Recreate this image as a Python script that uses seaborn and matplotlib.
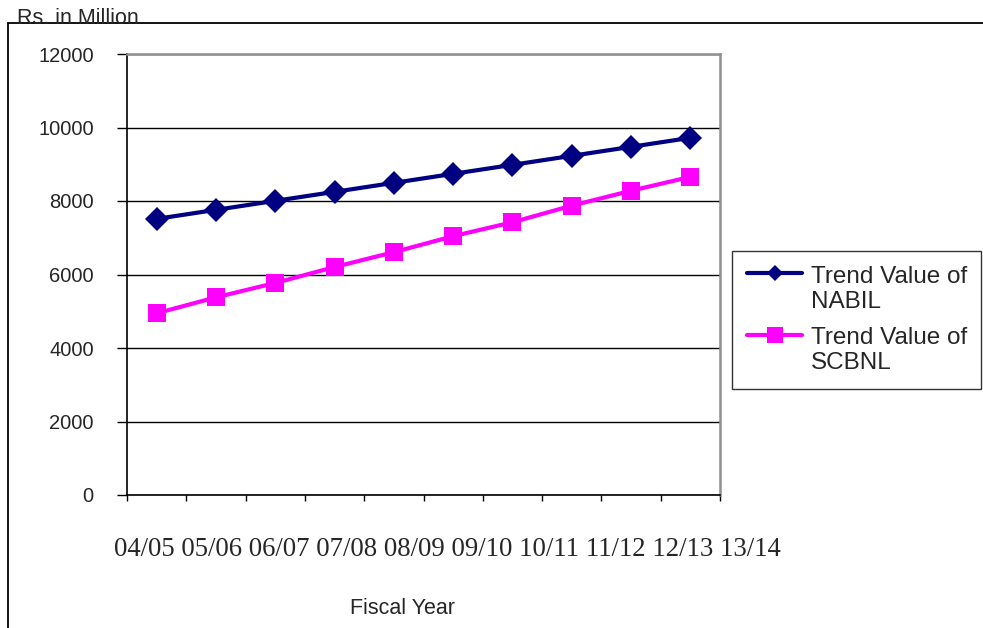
import numpy as np
import pandas as pd
import matplotlib
matplotlib.use("Agg")
import matplotlib.pyplot as plt
import matplotlib.patches as patches
import matplotlib.transforms as mtransforms
from matplotlib.lines import Line2D
from matplotlib.legend_handler import HandlerLine2D
import seaborn as sns

# ------------------- Data -------------------
years = ["04/05", "05/06", "06/07", "07/08", "08/09",
         "09/10", "10/11", "11/12", "12/13", "13/14"]
nabil = [7514, 7759, 8004, 8249, 8494, 8739, 8984, 9229, 9474, 9719]
scbnl = [4946, 5378, 5770, 6203, 6608, 7043, 7422, 7873, 8278, 8657]
series_names = ["Trend Value of\nNABIL", "Trend Value of\nSCBNL"]
y_ticks = [0, 2000, 4000, 6000, 8000, 10000, 12000]

df = pd.DataFrame({
    "pos": list(range(len(years))) * 2,
    "value": nabil + scbnl,
    "series": [series_names[0]] * len(years) + [series_names[1]] * len(years),
})


# legend handle sits next to the first line of the two-line label (as in Excel)
class RaisedHandler(HandlerLine2D):
    def create_artists(self, legend, orig_handle, xdescent, ydescent,
                       width, height, fontsize, trans):
        trans = trans + mtransforms.Affine2D().translate(0, 16)
        return super().create_artists(legend, orig_handle, xdescent, ydescent,
                                      width, height, fontsize, trans)


# ------------------- Figure -------------------
sns.set_style("white")
plt.rcParams["font.family"] = ["Liberation Sans", "DejaVu Sans"]

fig = plt.figure(figsize=(9.83, 6.28), dpi=100)
ax = fig.add_axes([127 / 983, 1 - 495 / 628, (720 - 127) / 983, (495 - 54) / 628])

sns.lineplot(data=df, x="pos", y="value", hue="series", style="series",
             palette=["#000080", "#FF00FF"], markers=["D", "s"], dashes=False,
             linewidth=3, markeredgewidth=0, ax=ax)
marker_sizes = [12.5, 13.5]
for line, ms in zip(ax.get_lines(), marker_sizes):
    line.set_markersize(ms)

ax.set_xlim(-0.5, len(years) - 0.5)
ax.set_ylim(0, 12000)
ax.set_yticks(y_ticks)
ax.set_yticklabels([str(v) for v in y_ticks], fontsize=14.5)
ax.set_xticks(np.arange(-0.5, len(years), 1.0))
ax.set_xticklabels([])
ax.tick_params(axis="y", direction="out", length=7, width=1, color="black", pad=17, left=True)
ax.tick_params(axis="x", direction="out", length=4, width=1, color="black", bottom=True)
ax.set_xlabel("")
ax.set_ylabel("")
ax.yaxis.grid(True, color="black", linewidth=1)
ax.xaxis.grid(False)
ax.set_axisbelow(True)
for side in ["left", "bottom"]:
    ax.spines[side].set_color("black")
    ax.spines[side].set_linewidth(1.2)
for side in ["top", "right"]:
    ax.spines[side].set_color("#909090")
    ax.spines[side].set_linewidth(1.8)

# Legend
handles, labels = ax.get_legend_handles_labels()
if ax.get_legend():
    ax.get_legend().remove()
leg = fig.legend(handles, labels, loc="upper left",
                 bbox_to_anchor=(732 / 983, 1 - 251 / 628),
                 frameon=True, fancybox=False, edgecolor="black",
                 fontsize=17.5, handlelength=2.3, handletextpad=0.33,
                 labelspacing=0.57, borderpad=0.6, borderaxespad=0,
                 handler_map={Line2D: RaisedHandler()})
leg.get_frame().set_linewidth(1)
for h, ms in zip(leg.legend_handles, [8, 11]):
    h.set_markersize(ms)
    h.set_linewidth(3)

# Category labels (one line of serif text, like the original)
fig.text(447 / 983, 1 - 549 / 628, " ".join(years), ha="center", va="center",
         fontsize=19.3, family=["Liberation Serif", "DejaVu Serif"])

fig.text(402 / 983, 1 - 608 / 628, "Fiscal Year", ha="center", va="center", fontsize=15.5)
fig.text(17 / 983, 1 - 24 / 628, "Rs. in Million", ha="left", va="baseline", fontsize=15.5)

# Outer frame of the chart
frame = patches.Rectangle((8 / 983, -0.05), 1.1, 1 - 23 / 628 + 0.05,
                          transform=fig.transFigure, fill=False,
                          edgecolor="black", linewidth=1.3, zorder=0)
fig.patches.append(frame)

fig.savefig("out.png", dpi=100)
